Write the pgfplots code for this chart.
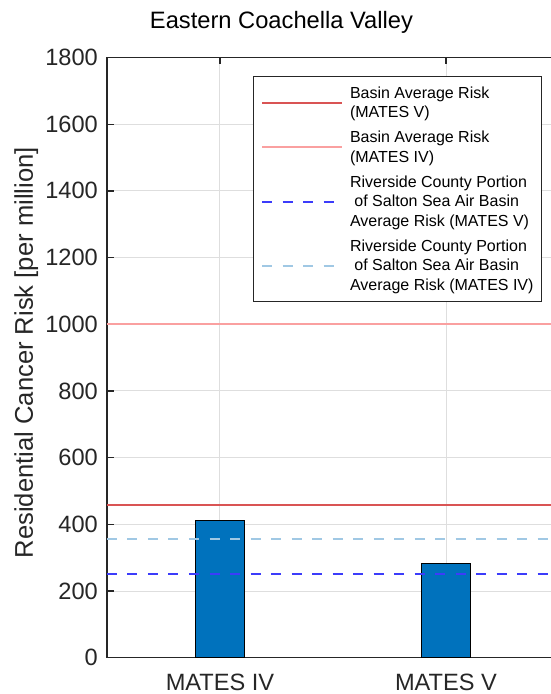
\documentclass[border=0pt]{standalone}
\usepackage{fontspec}
\setmainfont{Liberation Sans}
\usepackage{pgfplots}
\pgfplotsset{compat=1.18}

\definecolor{axgray}{RGB}{38,38,38}
\definecolor{gridgray}{RGB}{222,222,222}
\definecolor{barblue}{RGB}{0,114,189}
\definecolor{basinV}{RGB}{217,84,84}
\definecolor{basinIV}{RGB}{250,160,160}
\definecolor{rivV}{RGB}{60,60,250}
\definecolor{rivIV}{RGB}{160,200,228}

\begin{document}
\begin{tikzpicture}
\begin{axis}[
  scale only axis,
  width=444bp, height=600.2bp,
  xmin=0.5, xmax=2.4646,
  ymin=0, ymax=1800,
  xtick={1,2}, xticklabels={MATES IV, MATES V},
  ytick={0,200,...,1800},
  axis x line*=box, axis y line*=left,
  tick align=inside,
  major tick length=6.5bp,
  grid=major,
  grid style={gridgray, line width=1bp},
  axis line style={axgray, line width=1.3bp},
  tick style={axgray, line width=1.3bp},
  /pgf/number format/assume math mode=true,
  /pgf/number format/1000 sep={},
  ticklabel style={font=\fontsize{23.6bp}{28bp}\selectfont, text=axgray},
  xticklabel style={anchor=base, inner sep=0pt, yshift=-32.3bp},
  yticklabel style={anchor=east, inner sep=0pt, xshift=-9bp},
  title={Eastern Coachella Valley},
  every axis title/.style={at={(0.393,1)}, anchor=base, yshift=28.7bp,
    font=\fontsize{23.7bp}{28bp}\selectfont},
  ylabel={Residential Cancer Risk [per million]},
  every axis y label/.style={at={(-0.1667,0.508)}, rotate=90, anchor=base,
    font=\fontsize{25.6bp}{30bp}\selectfont, text=axgray},
  legend style={at={(1,1)}, anchor=north east, xshift=-9bp, yshift=-18.5bp,
    draw=axgray, line width=1bp, fill=white,
    inner xsep=8bp, inner ysep=10bp, row sep=12bp,
    font=\fontsize{16bp}{19.5bp}\selectfont,
    nodes={inner sep=0pt, align=left, text=black}},
  legend cell align=left,
  legend image code/.code={\draw[#1] (0bp,0bp) -- (80bp,0bp); \path (87bp,0bp);},
]
% bars
\addplot[ybar, bar width=0.217, fill=barblue, draw=black, line width=1bp, forget plot]
  coordinates {(1,411) (2,283)};
% reference lines
\addplot[basinV, line width=2bp] coordinates {(0.5,458) (2.5,458)};
\addlegendentry{Basin Average Risk\\(MATES V)}
\addplot[basinIV, line width=2bp] coordinates {(0.5,1000) (2.5,1000)};
\addlegendentry{Basin Average Risk\\(MATES IV)}
\addplot[rivV, line width=2bp, dash pattern=on 10bp off 10.5bp] coordinates {(0.5,251) (2.5,251)};
\addlegendentry{Riverside County Portion\\\hspace{4.4bp}of Salton Sea Air Basin\\Average Risk (MATES V)}
\addplot[rivIV, line width=2bp, dash pattern=on 10bp off 10.5bp] coordinates {(0.5,357) (2.5,357)};
\addlegendentry{Riverside County Portion\\\hspace{4.4bp}of Salton Sea Air Basin\\Average Risk (MATES IV)}
\end{axis}
\pgfresetboundingbox
\path[use as bounding box] ([xshift=-107bp,yshift=-36.3bp]current axis.south west)
  rectangle ([yshift=57.5bp]current axis.north east);
\end{tikzpicture}
\end{document}
